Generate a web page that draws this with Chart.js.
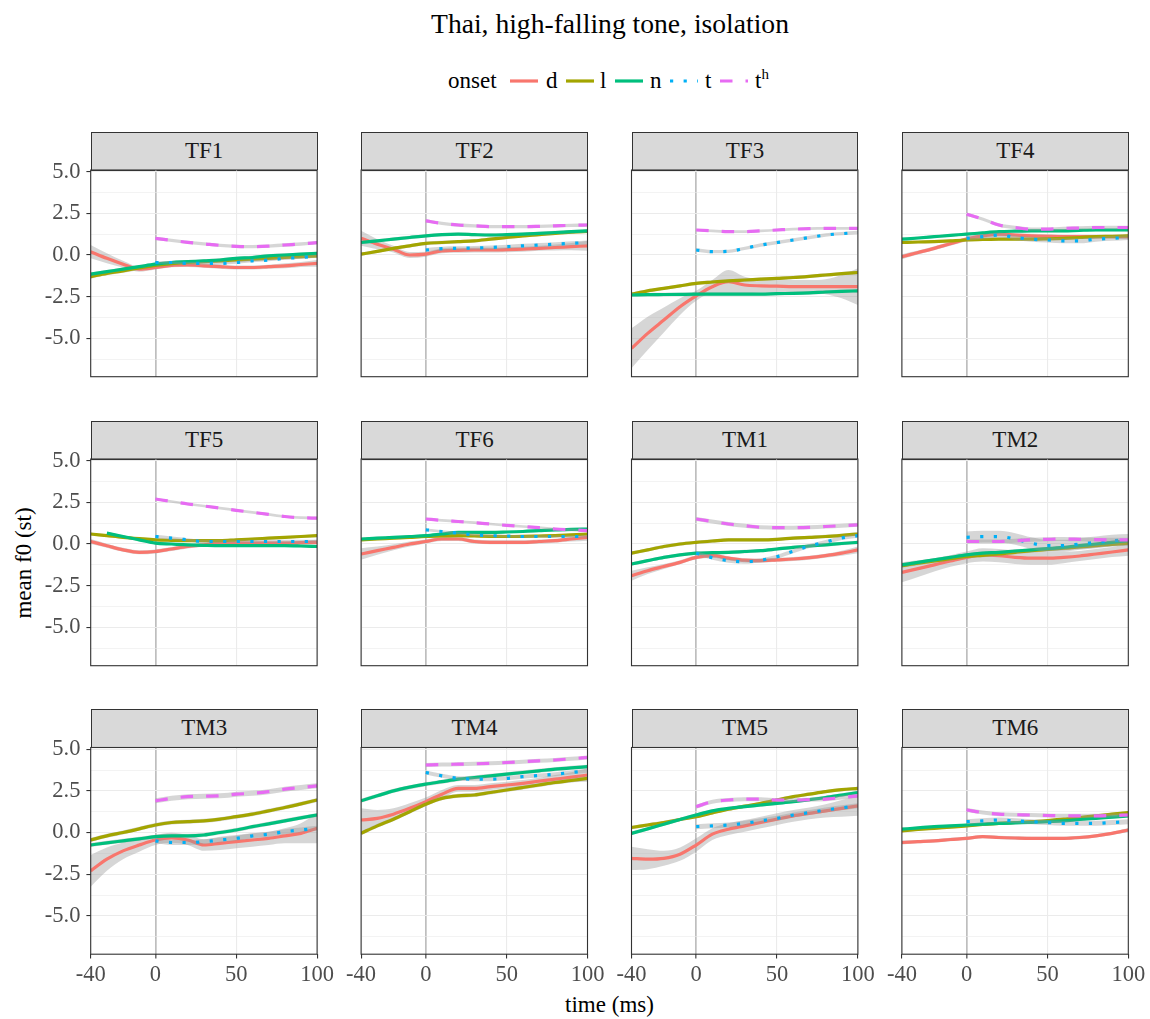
<!DOCTYPE html>
<html>
<head>
<meta charset="utf-8">
<script src="https://cdn.jsdelivr.net/npm/chart.js@4.4.0/dist/chart.umd.min.js"></script>
<style>
  body { margin: 0; background: #fff; width: 1150px; height: 1019px; position: relative; overflow: hidden;
         font-family: "Liberation Serif", "Times New Roman", serif; }
  .txt { position: absolute; white-space: nowrap; color: #000; }
  .strip { position: absolute; box-sizing: border-box; background: #d9d9d9; border: 1.1px solid #333;
           text-align: center; color: #1a1a1a; font-size: 23px; line-height: 26px; padding-top: 5.4px; }
  canvas { position: absolute; }
  sup { font-size: 15px; vertical-align: 9px; line-height: 0; }
</style>
</head>
<body>
<div class="txt" style="left:310px;width:600px;text-align:center;top:7.7px;font-size:27.6px;line-height:32px;">Thai, high-falling tone, isolation</div>
<div class="txt" style="left:0;top:992px;width:1219px;text-align:center;font-size:23px;line-height:26px;">time (ms)</div>
<div class="txt" style="left:24px;top:563px;font-size:23px;line-height:26px;transform:translate(-50%,-50%) rotate(-90deg);">mean f0 (st)</div>
<div id="legend"></div>
<script>
// ============================
// DATOS
// ============================
const PANELS = ["TF1", "TF2", "TF3", "TF4", "TF5", "TF6", "TM1", "TM2", "TM3", "TM4", "TM5", "TM6"];
const X_FULL = [-40, -30, -20, -10, 0, 10, 20, 30, 40, 50, 60, 70, 80, 90, 100];
const X_POST = [0, 10, 20, 30, 40, 50, 60, 70, 80, 90, 100];
const X_TICKS = [-40, 0, 50, 100];
const Y_TICKS = [-6.25, -5, -3.75, -2.5, -1.25, 0, 1.25, 2.5, 3.75, 5];

// onset d (per panel, on X_FULL)
const D_MEAN = [
  [0.2, -0.2, -0.55, -0.85, -0.75, -0.62, -0.6, -0.65, -0.7, -0.75, -0.75, -0.7, -0.65, -0.57, -0.5],
  [1.0, 0.65, 0.35, 0.0, 0.05, 0.25, 0.28, 0.3, 0.3, 0.32, 0.35, 0.4, 0.45, 0.5, 0.55],
  [-5.6, -4.7, -3.9, -3.1, -2.45, -1.9, -1.6, -1.8, -1.85, -1.87, -1.9, -1.9, -1.9, -1.9, -1.9],
  [-0.1, 0.15, 0.4, 0.68, 0.95, 1.15, 1.25, 1.2, 1.15, 1.12, 1.1, 1.1, 1.1, 1.1, 1.1],
  [0.15, -0.1, -0.35, -0.5, -0.45, -0.3, -0.15, -0.05, 0.05, 0.05, 0.05, 0.05, 0.05, 0.08, 0.1],
  [-0.6, -0.4, -0.2, 0.0, 0.15, 0.3, 0.3, 0.15, 0.1, 0.1, 0.1, 0.15, 0.2, 0.3, 0.4],
  [-1.9, -1.6, -1.35, -1.1, -0.8, -0.7, -0.85, -0.97, -1.0, -0.95, -0.9, -0.82, -0.7, -0.55, -0.35],
  [-1.7, -1.48, -1.25, -1.02, -0.8, -0.65, -0.7, -0.8, -0.85, -0.85, -0.8, -0.72, -0.6, -0.48, -0.35],
  [-2.3, -1.6, -1.1, -0.75, -0.45, -0.32, -0.45, -0.75, -0.65, -0.55, -0.45, -0.35, -0.2, -0.05, 0.25],
  [0.75, 0.85, 1.1, 1.45, 1.85, 2.3, 2.65, 2.65, 2.75, 2.85, 2.95, 3.08, 3.2, 3.32, 3.45],
  [-1.55, -1.6, -1.55, -1.3, -0.75, -0.1, 0.2, 0.4, 0.6, 0.8, 1.0, 1.15, 1.3, 1.45, 1.6],
  [-0.6, -0.55, -0.5, -0.42, -0.35, -0.25, -0.3, -0.33, -0.35, -0.35, -0.35, -0.3, -0.2, -0.05, 0.15]
];
const D_SE = [
  [0.4, 0.3, 0.2, 0.15, 0.12, 0.12, 0.12, 0.12, 0.12, 0.12, 0.12, 0.12, 0.15, 0.15, 0.2],
  [0.45, 0.3, 0.2, 0.18, 0.15, 0.15, 0.15, 0.15, 0.15, 0.15, 0.15, 0.15, 0.18, 0.22, 0.3],
  [1.2, 1.0, 0.75, 0.5, 0.3, 0.4, 0.7, 0.5, 0.4, 0.4, 0.4, 0.4, 0.45, 0.7, 1.1],
  [0.15, 0.12, 0.12, 0.12, 0.12, 0.12, 0.12, 0.12, 0.12, 0.12, 0.12, 0.12, 0.12, 0.12, 0.15],
  [0.15, 0.12, 0.12, 0.12, 0.12, 0.12, 0.12, 0.12, 0.12, 0.12, 0.12, 0.12, 0.12, 0.12, 0.15],
  [0.35, 0.25, 0.18, 0.15, 0.12, 0.12, 0.12, 0.12, 0.12, 0.12, 0.12, 0.12, 0.12, 0.15, 0.2],
  [0.3, 0.2, 0.15, 0.12, 0.12, 0.12, 0.12, 0.12, 0.12, 0.12, 0.12, 0.12, 0.12, 0.15, 0.2],
  [0.6, 0.5, 0.4, 0.35, 0.35, 0.4, 0.4, 0.4, 0.4, 0.4, 0.35, 0.3, 0.3, 0.3, 0.35],
  [0.95, 0.7, 0.5, 0.4, 0.3, 0.3, 0.3, 0.35, 0.4, 0.4, 0.4, 0.4, 0.45, 0.6, 0.9],
  [0.7, 0.5, 0.35, 0.3, 0.25, 0.25, 0.2, 0.2, 0.2, 0.2, 0.2, 0.2, 0.25, 0.3, 0.4],
  [0.7, 0.6, 0.45, 0.4, 0.4, 0.35, 0.35, 0.35, 0.35, 0.35, 0.35, 0.35, 0.4, 0.5, 0.6],
  [0.12, 0.1, 0.1, 0.1, 0.1, 0.1, 0.1, 0.1, 0.1, 0.1, 0.1, 0.1, 0.1, 0.1, 0.12]
];

// onset l (on X_FULL)
const L_MEAN = [
  [-1.3, -1.1, -0.95, -0.78, -0.62, -0.52, -0.45, -0.4, -0.35, -0.3, -0.25, -0.2, -0.15, -0.1, -0.05],
  [0.05, 0.22, 0.4, 0.55, 0.7, 0.75, 0.8, 0.85, 0.95, 1.05, 1.15, 1.22, 1.3, 1.37, 1.42],
  [-2.35, -2.15, -2.0, -1.85, -1.7, -1.62, -1.55, -1.5, -1.45, -1.4, -1.35, -1.28, -1.2, -1.12, -1.05],
  [0.75, 0.78, 0.8, 0.85, 0.9, 0.93, 0.95, 0.95, 0.95, 0.97, 1.0, 1.05, 1.1, 1.12, 1.15],
  [0.6, 0.5, 0.4, 0.32, 0.25, 0.22, 0.2, 0.2, 0.2, 0.25, 0.3, 0.35, 0.4, 0.45, 0.5],
  [0.25, 0.3, 0.35, 0.4, 0.45, 0.48, 0.5, 0.48, 0.46, 0.45, 0.46, 0.48, 0.5, 0.55, 0.6],
  [-0.55, -0.35, -0.15, 0.0, 0.1, 0.18, 0.25, 0.25, 0.25, 0.28, 0.35, 0.4, 0.45, 0.52, 0.6],
  [-1.3, -1.15, -1.02, -0.88, -0.75, -0.68, -0.6, -0.5, -0.4, -0.32, -0.25, -0.18, -0.1, -0.02, 0.05],
  [-0.45, -0.2, 0.0, 0.22, 0.45, 0.6, 0.65, 0.7, 0.8, 0.95, 1.1, 1.3, 1.5, 1.72, 1.95],
  [-0.05, 0.4, 0.8, 1.25, 1.7, 2.05, 2.2, 2.25, 2.4, 2.55, 2.7, 2.85, 3.0, 3.12, 3.25],
  [0.3, 0.45, 0.6, 0.78, 0.95, 1.18, 1.4, 1.58, 1.75, 1.95, 2.15, 2.3, 2.45, 2.57, 2.65],
  [0.1, 0.18, 0.25, 0.32, 0.4, 0.48, 0.55, 0.6, 0.65, 0.72, 0.8, 0.9, 1.0, 1.1, 1.2]
];
const L_SE = [0.12, 0.1, 0.1, 0.08, 0.08, 0.08, 0.1, 0.12, 0.12, 0.12, 0.1, 0.08];

// onset n (on X_FULL)
const N_MEAN = [
  [-1.15, -1.0, -0.85, -0.7, -0.55, -0.45, -0.4, -0.35, -0.3, -0.2, -0.15, -0.05, 0.0, 0.05, 0.1],
  [0.75, 0.85, 0.95, 1.05, 1.15, 1.22, 1.25, 1.22, 1.2, 1.22, 1.25, 1.3, 1.35, 1.4, 1.45],
  [-2.4, -2.38, -2.37, -2.36, -2.35, -2.35, -2.35, -2.35, -2.35, -2.32, -2.3, -2.27, -2.22, -2.18, -2.15],
  [0.95, 1.02, 1.1, 1.18, 1.25, 1.33, 1.4, 1.43, 1.45, 1.45, 1.45, 1.48, 1.5, 1.5, 1.5],
  [null, 0.65, 0.45, 0.25, 0.05, 0.0, -0.05, -0.08, -0.1, -0.1, -0.1, -0.1, -0.1, -0.12, -0.15],
  [0.3, 0.35, 0.4, 0.45, 0.5, 0.6, 0.7, 0.7, 0.7, 0.72, 0.75, 0.8, 0.85, 0.88, 0.9],
  [-1.2, -1.0, -0.8, -0.65, -0.55, -0.52, -0.5, -0.45, -0.4, -0.3, -0.2, -0.12, -0.05, 0.03, 0.1],
  [-1.25, -1.1, -0.95, -0.8, -0.65, -0.55, -0.5, -0.42, -0.35, -0.28, -0.2, -0.1, 0.0, 0.1, 0.2],
  [-0.75, -0.62, -0.5, -0.38, -0.25, -0.2, -0.2, -0.15, 0.0, 0.15, 0.35, 0.52, 0.7, 0.88, 1.05],
  [1.9, 2.2, 2.5, 2.72, 2.9, 3.05, 3.2, 3.3, 3.4, 3.5, 3.6, 3.7, 3.8, 3.88, 3.95],
  [-0.05, 0.22, 0.5, 0.78, 1.05, 1.3, 1.45, 1.55, 1.65, 1.75, 1.85, 1.97, 2.1, 2.25, 2.4],
  [0.2, 0.28, 0.35, 0.4, 0.45, 0.5, 0.55, 0.58, 0.6, 0.65, 0.7, 0.78, 0.85, 0.92, 1.0]
];
const N_SE = [0.1, 0.1, 0.1, 0.08, 0.08, 0.08, 0.1, 0.1, 0.12, 0.12, 0.1, 0.08];

// onset t (on X_POST)
const T_MEAN = [
  [-0.45, -0.45, -0.5, -0.5, -0.5, -0.45, -0.35, -0.3, -0.2, -0.15, -0.05],
  [0.3, 0.38, 0.4, 0.42, 0.45, 0.5, 0.55, 0.6, 0.65, 0.7, 0.75],
  [0.3, 0.2, 0.22, 0.4, 0.6, 0.75, 0.9, 1.05, 1.2, 1.28, 1.35],
  [1.0, 1.1, 1.2, 1.05, 0.95, 0.9, 0.85, 0.85, 0.95, 1.0, 1.05],
  [0.45, 0.35, 0.25, 0.15, 0.15, 0.15, 0.15, 0.15, 0.15, 0.15, 0.15],
  [0.85, 0.75, 0.65, 0.55, 0.5, 0.48, 0.45, 0.45, 0.45, 0.45, 0.45],
  [-0.55, -0.82, -1.0, -1.06, -0.97, -0.76, -0.43, -0.12, 0.12, 0.36, 0.5],
  [0.4, 0.44, 0.44, 0.3, 0.05, -0.1, -0.1, 0.0, 0.1, 0.2, 0.25],
  [-0.5, -0.6, -0.6, -0.55, -0.45, -0.35, -0.2, -0.1, 0.05, 0.15, 0.25],
  [3.6, 3.4, 3.25, 3.2, 3.2, 3.25, 3.35, 3.42, 3.5, 3.6, 3.7],
  [0.35, 0.4, 0.45, 0.55, 0.7, 0.85, 1.05, 1.2, 1.35, 1.48, 1.6],
  [0.65, 0.7, 0.75, 0.7, 0.65, 0.6, 0.55, 0.55, 0.55, 0.6, 0.65]
];
const T_SE = [0.08, 0.12, 0.1, 0.15, 0.1, 0.08, 0.12, 0.35, 0.15, 0.12, 0.15, 0.15];

// onset th (on X_POST)
const TH_MEAN = [
  [1.0, 0.88, 0.76, 0.67, 0.58, 0.52, 0.5, 0.53, 0.6, 0.66, 0.74],
  [2.05, 1.9, 1.8, 1.75, 1.7, 1.7, 1.7, 1.72, 1.75, 1.78, 1.8],
  [1.5, 1.45, 1.4, 1.4, 1.45, 1.5, 1.55, 1.58, 1.6, 1.6, 1.6],
  [2.45, 2.15, 1.8, 1.65, 1.55, 1.55, 1.6, 1.62, 1.65, 1.65, 1.65],
  [2.7, 2.55, 2.4, 2.28, 2.15, 2.02, 1.9, 1.78, 1.65, 1.58, 1.55],
  [1.5, 1.42, 1.35, 1.28, 1.2, 1.12, 1.05, 0.98, 0.9, 0.85, 0.8],
  [1.5, 1.35, 1.2, 1.1, 1.0, 0.98, 0.98, 1.0, 1.05, 1.1, 1.15],
  [0.15, 0.15, 0.15, 0.2, 0.25, 0.28, 0.3, 0.28, 0.26, 0.25, 0.25],
  [1.9, 2.05, 2.15, 2.18, 2.2, 2.3, 2.35, 2.45, 2.6, 2.7, 2.8],
  [4.05, 4.08, 4.1, 4.12, 4.15, 4.2, 4.25, 4.3, 4.35, 4.42, 4.5],
  [1.55, 1.85, 1.95, 2.0, 2.0, 1.95, 1.95, 1.97, 2.0, 2.1, 2.2],
  [1.35, 1.2, 1.1, 1.07, 1.05, 1.02, 1.0, 1.0, 1.0, 1.02, 1.05]
];
const TH_SE = [0.1, 0.1, 0.08, 0.1, 0.08, 0.08, 0.12, 0.12, 0.15, 0.12, 0.12, 0.12];

// ============================
// ESTILO / GEOMETRIA
// ============================
const FONT = '"Liberation Serif", "Times New Roman", serif';
Chart.defaults.font.family = FONT;
const TICK_SIZE = 22.5;
const COLORS = ["#F8766D", "#A3A500", "#00BF7D", "#00B0F6", "#E76BF3"];
const DASHES = [[], [], [], [3.2, 10.4], [12.5, 13]];
const RIBBON = "rgba(153,153,153,0.4)";
const PANEL_LEFT = [90.7, 361.1, 631.5, 901.9];
const PANEL_TOP = [170, 459, 747.5];
const PANEL_W = 226.4;
const PANEL_H = 206.7;

// borde del panel (theme_bw)
const panelBorder = {
  id: "panelBorder",
  afterDatasetsDraw(chart) {
    const a = chart.chartArea;
    const ctx = chart.ctx;
    ctx.save();
    ctx.strokeStyle = "#333333";
    ctx.lineWidth = 1.1;
    ctx.strokeRect(a.left, a.top, a.right - a.left, a.bottom - a.top);
    ctx.restore();
  }
};

function isMajor(v) {
  return Math.abs(v / 2.5 - Math.round(v / 2.5)) < 1e-6;
}

const charts = [];

// ============================
// PANELES
// ============================
PANELS.forEach((name, i) => {
  const r = Math.floor(i / 4);
  const c = i % 4;
  const leftCol = c === 0;
  const bottomRow = r === 2;

  // strip
  const strip = document.createElement("div");
  strip.className = "strip";
  strip.style.left = PANEL_LEFT[c] + "px";
  strip.style.top = (PANEL_TOP[r] - 38.5) + "px";
  strip.style.width = (PANEL_W + 0.55) + "px";
  strip.style.height = "39px";
  strip.textContent = name;
  document.body.appendChild(strip);

  // canvas (margen extra para etiquetas)
  const cl = Math.floor(PANEL_LEFT[c]) - 90;
  const ct = Math.floor(PANEL_TOP[r]) - 14;
  const W = 345, H = 262;
  const padL = PANEL_LEFT[c] - cl;
  const padT = PANEL_TOP[r] - ct;
  const padR = W - padL - PANEL_W;
  const padB = H - padT - PANEL_H;
  const cv = document.createElement("canvas");
  cv.width = W; cv.height = H;
  cv.style.left = cl + "px"; cv.style.top = ct + "px";
  document.body.appendChild(cv);

  const means = [D_MEAN[i], L_MEAN[i], N_MEAN[i], T_MEAN[i], TH_MEAN[i]];
  const ses = [D_SE[i], L_SE[i], N_SE[i], T_SE[i], TH_SE[i]];
  const datasets = [];
  means.forEach((m, k) => {
    const xs = k < 3 ? X_FULL : X_POST;
    const se = j => Array.isArray(ses[k]) ? ses[k][j] : ses[k];
    const pts = f => xs.map((x, j) => ({ x: x, y: m[j] == null ? null : f(m[j], j) }));
    const common = { pointRadius: 0, cubicInterpolationMode: "monotone", clip: 0 };
    datasets.push(Object.assign({ data: pts((v, j) => v + se(j)), borderWidth: 0, borderColor: "rgba(0,0,0,0)", fill: false, order: 100 - 2 * k }, common));
    datasets.push(Object.assign({ data: pts((v, j) => v - se(j)), borderWidth: 0, borderColor: "rgba(0,0,0,0)", fill: "-1", backgroundColor: RIBBON, order: 100 - 2 * k }, common));
    datasets.push(Object.assign({ data: pts(v => v), borderColor: COLORS[k], borderWidth: 3.2, borderDash: DASHES[k], borderCapStyle: "butt", fill: false, order: 99 - 2 * k }, common));
  });

  charts.push(new Chart(cv, {
    type: "line",
    data: { datasets: datasets },
    plugins: [panelBorder],
    options: {
      responsive: false,
      animation: false,
      devicePixelRatio: 1,
      layout: { padding: { left: 0, top: padT, right: padR, bottom: 0 }, autoPadding: false },
      plugins: { legend: { display: false }, tooltip: { enabled: false } },
      scales: {
        x: {
          type: "linear", min: -40, max: 100,
          afterBuildTicks: sc => { sc.ticks = X_TICKS.map(v => ({ value: v })); },
          afterFit: sc => { sc.height = padB; sc.paddingLeft = 0; sc.paddingRight = 0; },
          border: { display: false },
          grid: {
            color: ctx => ctx.tick && ctx.tick.value === 0 ? "#bebebe" : "#ebebeb",
            lineWidth: ctx => ctx.tick && ctx.tick.value === 0 ? 1.7 : 1.1,
            drawTicks: bottomRow, tickLength: 4.3, tickColor: "#333333", tickWidth: 1.1
          },
          ticks: {
            display: bottomRow, autoSkip: false, maxRotation: 0, padding: 3,
            color: "#4d4d4d", font: { family: FONT, size: TICK_SIZE },
            callback: v => String(v)
          }
        },
        y: {
          type: "linear", min: -7.3, max: 5.1,
          afterBuildTicks: sc => { sc.ticks = Y_TICKS.map(v => ({ value: v })); },
          afterFit: sc => { sc.width = padL; sc.paddingTop = 0; sc.paddingBottom = 0; },
          border: { display: false },
          grid: {
            color: "#ebebeb",
            lineWidth: ctx => ctx.tick && isMajor(ctx.tick.value) ? 1.1 : 0.6,
            drawTicks: leftCol, tickLength: 4.3, tickWidth: 1.1,
            tickColor: ctx => ctx.tick && isMajor(ctx.tick.value) ? "#333333" : "rgba(0,0,0,0)"
          },
          ticks: {
            display: leftCol, autoSkip: false, padding: 6,
            color: "#4d4d4d", font: { family: FONT, size: TICK_SIZE },
            callback: v => isMajor(v) ? v.toFixed(1) : ""
          }
        }
      }
    }
  }));
});

// redibujar cuando la fuente esté lista
if (document.fonts && document.fonts.load) {
  document.fonts.load(TICK_SIZE + 'px "Liberation Serif"').then(() => charts.forEach(ch => ch.update()));
}

// ============================
// LEYENDA
// ============================
const LEGEND_KEY_X = [510, 566, 615, 670, 720];
const LEGEND_TEXT_X = [546, 600, 650, 705, 755];
const LEGEND_LABELS = ["d", "l", "n", "t", "t<sup>h</sup>"];
const leg = document.getElementById("legend");
let html = '<div class="txt" style="left:448px;top:67.6px;font-size:23px;line-height:26px;">onset</div>';
LEGEND_LABELS.forEach((lab, k) => {
  html += '<svg style="position:absolute;left:' + LEGEND_KEY_X[k] + 'px;top:71px" width="30" height="20">' +
    '<line x1="0" y1="10" x2="28" y2="10" stroke="' + COLORS[k] + '" stroke-width="3.2"' +
    (DASHES[k].length ? ' stroke-dasharray="' + DASHES[k].join(" ") + '"' : "") + ' /></svg>';
  html += '<div class="txt" style="left:' + LEGEND_TEXT_X[k] + 'px;top:67.6px;font-size:23px;line-height:26px;">' + lab + '</div>';
});
leg.innerHTML = html;
</script>
</body>
</html>
